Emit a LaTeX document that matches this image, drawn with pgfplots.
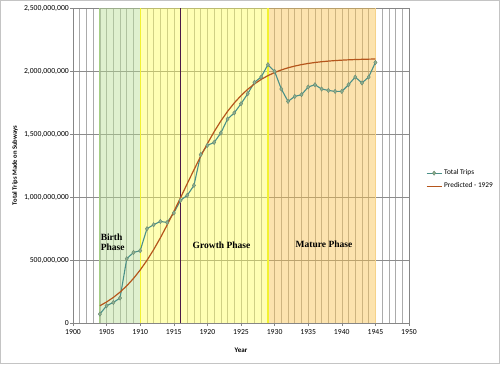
\documentclass[border=0pt]{standalone}
\usepackage{pgfplots}
\pgfplotsset{compat=1.18}
\usepackage{fontspec}
\setmainfont{Carlito}
\newfontfamily\phasefont{Liberation Serif}
\definecolor{framegray}{HTML}{C4C4C4}
\definecolor{vgrid}{HTML}{ABABAB}
\definecolor{hgrid}{HTML}{8C8C8C}
\definecolor{axgray}{HTML}{868686}
\definecolor{bandgreen}{HTML}{B8DE94}
\definecolor{edgegreen}{HTML}{A6CF86}
\definecolor{bandyellow}{HTML}{FFFF58}
\definecolor{edgeyellow}{HTML}{F2F230}
\definecolor{bandorange}{HTML}{F8C14B}
\definecolor{edgeorange}{HTML}{F5D28A}
\definecolor{plum}{HTML}{4A1A48}
\definecolor{tripline}{HTML}{4A9088}
\definecolor{tripmark}{HTML}{8AAE8E}
\definecolor{predline}{HTML}{B5561C}
\begin{document}
\begin{tikzpicture}[x=1bp,y=1bp]
\useasboundingbox (-73,-41) rectangle (427,323);
\draw[color=framegray, line width=1bp] (-72.5,-40.5) rectangle (426.5,322.5);
\begin{axis}[
  at={(0,0)}, anchor=south west,
  scale only axis, width=336bp, height=315bp,
  xmin=1900, xmax=1950, ymin=0, ymax=2500000000,
  xtick={1900,1905,1910,1915,1920,1925,1930,1935,1940,1945,1950},
  xticklabels={1900,1905,1910,1915,1920,1925,1930,1935,1940,1945,1950},
  minor x tick num=4,
  ytick={0,500000000,1000000000,1500000000,2000000000,2500000000},
  yticklabels={0,{500,000,000},{1,000,000,000},{1,500,000,000},{2,000,000,000},{2,500,000,000}},
  scaled y ticks=false,
  xmajorgrids, xminorgrids, ymajorgrids,
  x grid style={color=vgrid, line width=0.6bp},
  y grid style={color=hgrid, line width=0.7bp},
  axis line style={color=axgray, line width=0.7bp},
  xtick pos=bottom, ytick pos=left,
  tick align=outside, major tick length=3bp, minor tick length=0bp,
  tick style={color=axgray, line width=0.6bp},
  ticklabel style={font=\fontsize{7.7bp}{9bp}\selectfont, color=black},
  yticklabel style={inner sep=0pt, xshift=-1bp},
  xticklabel style={inner sep=0pt, yshift=-3bp},
  xlabel={Year}, ylabel={Total Trips Made on Subways},
  every axis x label/.style={at={(axis description cs:0.5,-0.0857)}, anchor=center, font=\fontsize{7bp}{8bp}\selectfont\bfseries},
  every axis y label/.style={at={(axis description cs:-0.1726,0.5)}, rotate=90, anchor=center, font=\fontsize{6.6bp}{8bp}\selectfont\bfseries},
  legend style={at={(1.05,0.455)}, anchor=west, draw=none, fill=none, inner sep=0pt,
    font=\fontsize{7.3bp}{8.5bp}\selectfont, row sep=2.5bp},
  legend cell align=left,
  legend image code/.code={\draw[mark repeat=2,mark phase=2] plot coordinates {(0bp,0bp)(7.5bp,0bp)(15bp,0bp)};},
]
\addplot[draw=none, fill=bandgreen, fill opacity=0.45, forget plot] coordinates {(1904,0) (1904,2500000000) (1910,2500000000) (1910,0)} --cycle;
\addplot[draw=none, fill=bandyellow, fill opacity=0.45, forget plot] coordinates {(1910,0) (1910,2500000000) (1929,2500000000) (1929,0)} --cycle;
\addplot[draw=none, fill=bandorange, fill opacity=0.45, forget plot] coordinates {(1929,0) (1929,2500000000) (1945,2500000000) (1945,0)} --cycle;
\addplot[edgegreen, line width=1bp, forget plot] coordinates {(1904,0) (1904,2500000000)};
\addplot[edgeyellow, line width=1.4bp, forget plot] coordinates {(1910,0) (1910,2500000000)};
\addplot[edgeyellow, line width=1.4bp, forget plot] coordinates {(1929,0) (1929,2500000000)};
\addplot[edgeorange, line width=1bp, forget plot] coordinates {(1945,0) (1945,2500000000)};
\addplot[plum, line width=1.7bp, forget plot] coordinates {(1916,0) (1916,2500000000)};
\addplot[tripline, line width=1.1bp, mark=diamond*, mark size=2.2bp,
  mark options={fill=tripmark, draw=tripmark!80!black, line width=0.4bp}] table {
x y
1904 71000000
1905 137000000
1906 163000000
1907 198000000
1908 510000000
1909 560000000
1910 574000000
1911 748000000
1912 780000000
1913 806000000
1914 798000000
1915 873000000
1916 973000000
1917 1013000000
1918 1092000000
1919 1336000000
1920 1410000000
1921 1433000000
1922 1508000000
1923 1619000000
1924 1667000000
1925 1740000000
1926 1820000000
1927 1910000000
1928 1952000000
1929 2050000000
1930 1997000000
1931 1857000000
1932 1759000000
1933 1798000000
1934 1812000000
1935 1873000000
1936 1891000000
1937 1857000000
1938 1846000000
1939 1838000000
1940 1838000000
1941 1891000000
1942 1952000000
1943 1905000000
1944 1952000000
1945 2068000000
};
\addlegendentry{Total Trips}
\addplot[predline, line width=1.2bp, no markers] table {
x y
1904 137000000
1905 167000000
1906 202700000
1907 245200000
1908 295200000
1909 353500000
1910 420600000
1911 496800000
1912 582000000
1913 675800000
1914 776900000
1915 883700000
1916 994100000
1917 1105900000
1918 1216300000
1919 1323300000
1920 1424200000
1921 1518000000
1922 1603200000
1923 1679500000
1924 1746500000
1925 1804700000
1926 1854800000
1927 1897400000
1928 1933200000
1929 1963000000
1930 1987900000
1931 2008400000
1932 2025400000
1933 2039200000
1934 2050600000
1935 2060000000
1936 2067500000
1937 2073700000
1938 2078600000
1939 2082700000
1940 2086000000
1941 2088700000
1942 2090800000
1943 2092700000
1944 2094000000
1945 2095200000
};
\addlegendentry{Predicted - 1929}
\node[anchor=west, align=left, font=\fontsize{9.5bp}{10bp}\phasefont\bfseries, inner sep=0pt] at (axis cs:1904.1,640000000) {Birth\\Phase};
\node[anchor=center, font=\fontsize{9.5bp}{10bp}\phasefont\bfseries, inner sep=0pt] at (axis cs:1922.1,619000000) {Growth Phase};
\node[anchor=center, font=\fontsize{9.5bp}{10bp}\phasefont\bfseries, inner sep=0pt] at (axis cs:1937.35,624000000) {Mature Phase};
\end{axis}
\end{tikzpicture}
\end{document}
